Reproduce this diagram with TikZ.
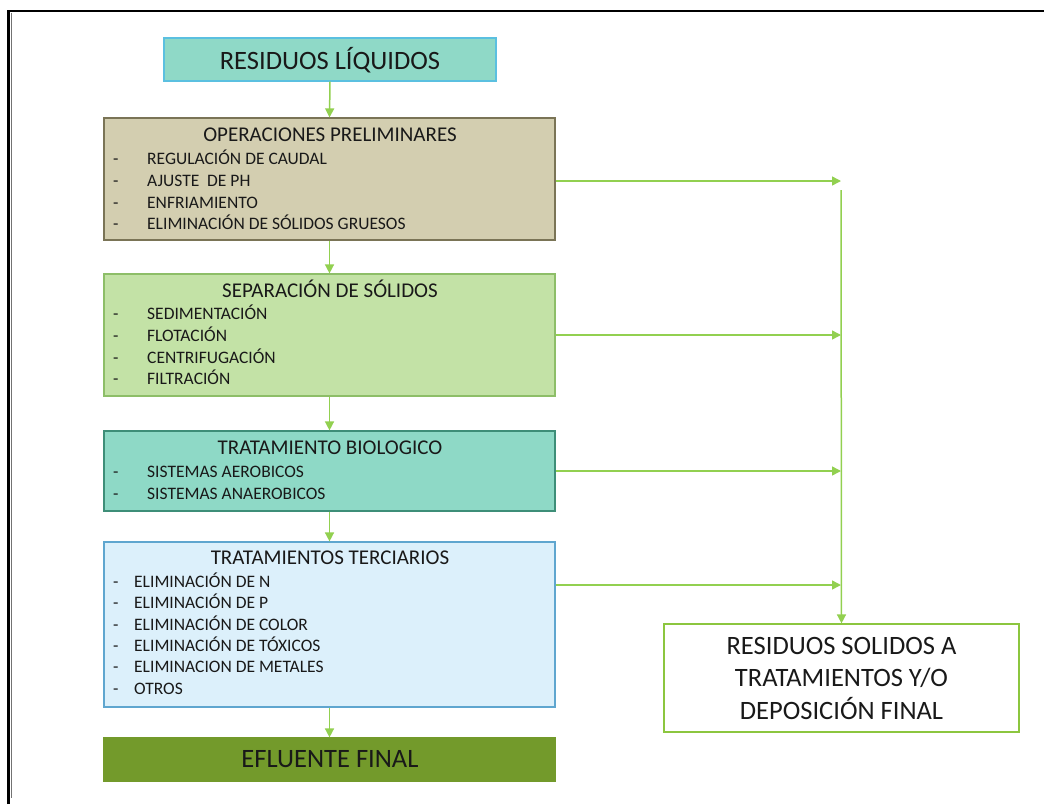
\documentclass[tikz,border=0pt]{standalone}
\usepackage{fontspec}
\setmainfont{Carlito}
\usetikzlibrary{arrows.meta}

\definecolor{flow}{HTML}{92D050}
\definecolor{liqfill}{HTML}{8FD9C7}
\definecolor{liqdraw}{HTML}{5BC0E0}
\definecolor{prelfill}{HTML}{D3CEB0}
\definecolor{preldraw}{HTML}{7A7456}
\definecolor{sepfill}{HTML}{C3E2A6}
\definecolor{sepdraw}{HTML}{8DBE68}
\definecolor{biofill}{HTML}{8ED9C6}
\definecolor{biodraw}{HTML}{3E8E78}
\definecolor{terfill}{HTML}{DCF0FB}
\definecolor{terdraw}{HTML}{5FA6CF}
\definecolor{eflfill}{HTML}{739A2B}
\definecolor{soldraw}{HTML}{8CC63F}

\tikzset{
  box/.style={draw, line width=1.2pt, inner sep=0pt},
  txt/.style={inner sep=0pt, text depth=0pt, text=black!90},
  big/.style={txt, text height=17pt, font=\fontsize{26.5}{30}\selectfont},
  head/.style={txt, text height=13.5pt, font=\fontsize{21}{24}\selectfont},
  entry/.style={txt, text height=11.3pt, anchor=west, font=\fontsize{17.5}{20}\selectfont},
  arr/.style={draw=flow, line width=1.5pt, -{Triangle[length=9pt,width=9pt]}},
}

\begin{document}
\begin{tikzpicture}[x=1pt,y=-1pt]
\useasboundingbox (0,0) rectangle (1044,804);

% page frame
\draw[black, line width=2.6pt] (8.5,804) -- (8.5,11) -- (1044,11);
\draw[black!55, line width=0.9pt] (11.5,12.5) -- (11.5,798);

% boxes
\node[box, fill=liqfill, draw=liqdraw, minimum width=332pt, minimum height=43pt] (liq) at (330,59.5) {};
\node[box, fill=prelfill, draw=preldraw, minimum width=451pt, minimum height=122pt] (prel) at (329.5,179) {};
\node[box, fill=sepfill, draw=sepdraw, minimum width=451pt, minimum height=122pt] (sep) at (329.5,335) {};
\node[box, fill=biofill, draw=biodraw, minimum width=451pt, minimum height=80pt] (bio) at (329.5,471) {};
\node[box, fill=terfill, draw=terdraw, minimum width=451pt, minimum height=165pt] (ter) at (329.5,624.5) {};
\node[box, fill=eflfill, draw=eflfill, minimum width=451pt, minimum height=43pt] (efl) at (329.5,759.5) {};
\node[box, fill=white, draw=soldraw, minimum width=355pt, minimum height=108pt] (sol) at (841.5,678) {};

% headings
\node[big] (liqT) at (330,60.5) {RESIDUOS LÍQUIDOS};
\node[head] (prelT) at (330,135) {OPERACIONES PRELIMINARES};
\node[head] (sepT) at (330,291) {SEPARACIÓN DE SÓLIDOS};
\node[head] (bioT) at (330,448) {TRATAMIENTO BIOLOGICO};
\node[head] (terT) at (330,558) {TRATAMIENTOS TERCIARIOS};
\node[big] (eflT) at (330,759) {EFLUENTE FINAL};
\node[big] (solA) at (841.5,645.5) {RESIDUOS SOLIDOS A};
\node[big] (solB) at (841.5,678) {TRATAMIENTOS Y/O};
\node[big] (solC) at (841.5,710.5) {DEPOSICIÓN FINAL};

% list entries
\foreach \y/\t [count=\i] in {159/REGULACIÓN DE CAUDAL, 181/AJUSTE\ \ DE PH, 202.5/ENFRIAMIENTO, 224/ELIMINACIÓN DE SÓLIDOS GRUESOS}{
  \node[entry] (prelD\i) at (113,\y) {-};
  \node[entry] (prelE\i) at (147,\y) {\t};
}
\foreach \y/\t [count=\i] in {314/SEDIMENTACIÓN, 336/FLOTACIÓN, 357.5/CENTRIFUGACIÓN, 379/FILTRACIÓN}{
  \node[entry] (sepD\i) at (113,\y) {-};
  \node[entry] (sepE\i) at (147,\y) {\t};
}
\foreach \y/\t [count=\i] in {471.5/SISTEMAS\ AEROBICOS, 494/SISTEMAS\ ANAEROBICOS}{
  \node[entry] (bioD\i) at (113,\y) {-};
  \node[entry] (bioE\i) at (147,\y) {\t};
}
\foreach \y/\t [count=\i] in {581.5/ELIMINACIÓN DE N, 603/ELIMINACIÓN DE P, 624.5/ELIMINACIÓN DE COLOR, 646/ELIMINACIÓN DE TÓXICOS, 667/ELIMINACION DE METALES, 689/OTROS}{
  \node[entry] (terD\i) at (113,\y) {-};
  \node[entry] (terE\i) at (134,\y) {\t};
}

% main flow
\draw[arr] (liq.south) -- (prel.north);
\draw[arr] (prel.south) -- (sep.north);
\draw[arr] (sep.south) -- (bio.north);
\draw[arr] (bio.south) -- (ter.north);
\draw[arr] (ter.south) -- (efl.north);

% solids collection
\coordinate (c1) at (841,181);
\coordinate (c2) at (841,335);
\coordinate (c3) at (841,471);
\coordinate (c4) at (841,585);
\coordinate (ctop) at (841,190);
\draw[arr] (prel.east |- c1) -- (c1);
\draw[arr] (sep.east |- c2) -- (c2);
\draw[arr] (bio.east |- c3) -- (c3);
\draw[arr] (ter.east |- c4) -- (c4);
\draw[arr] (ctop) -- (sol.north);
\end{tikzpicture}
\end{document}
